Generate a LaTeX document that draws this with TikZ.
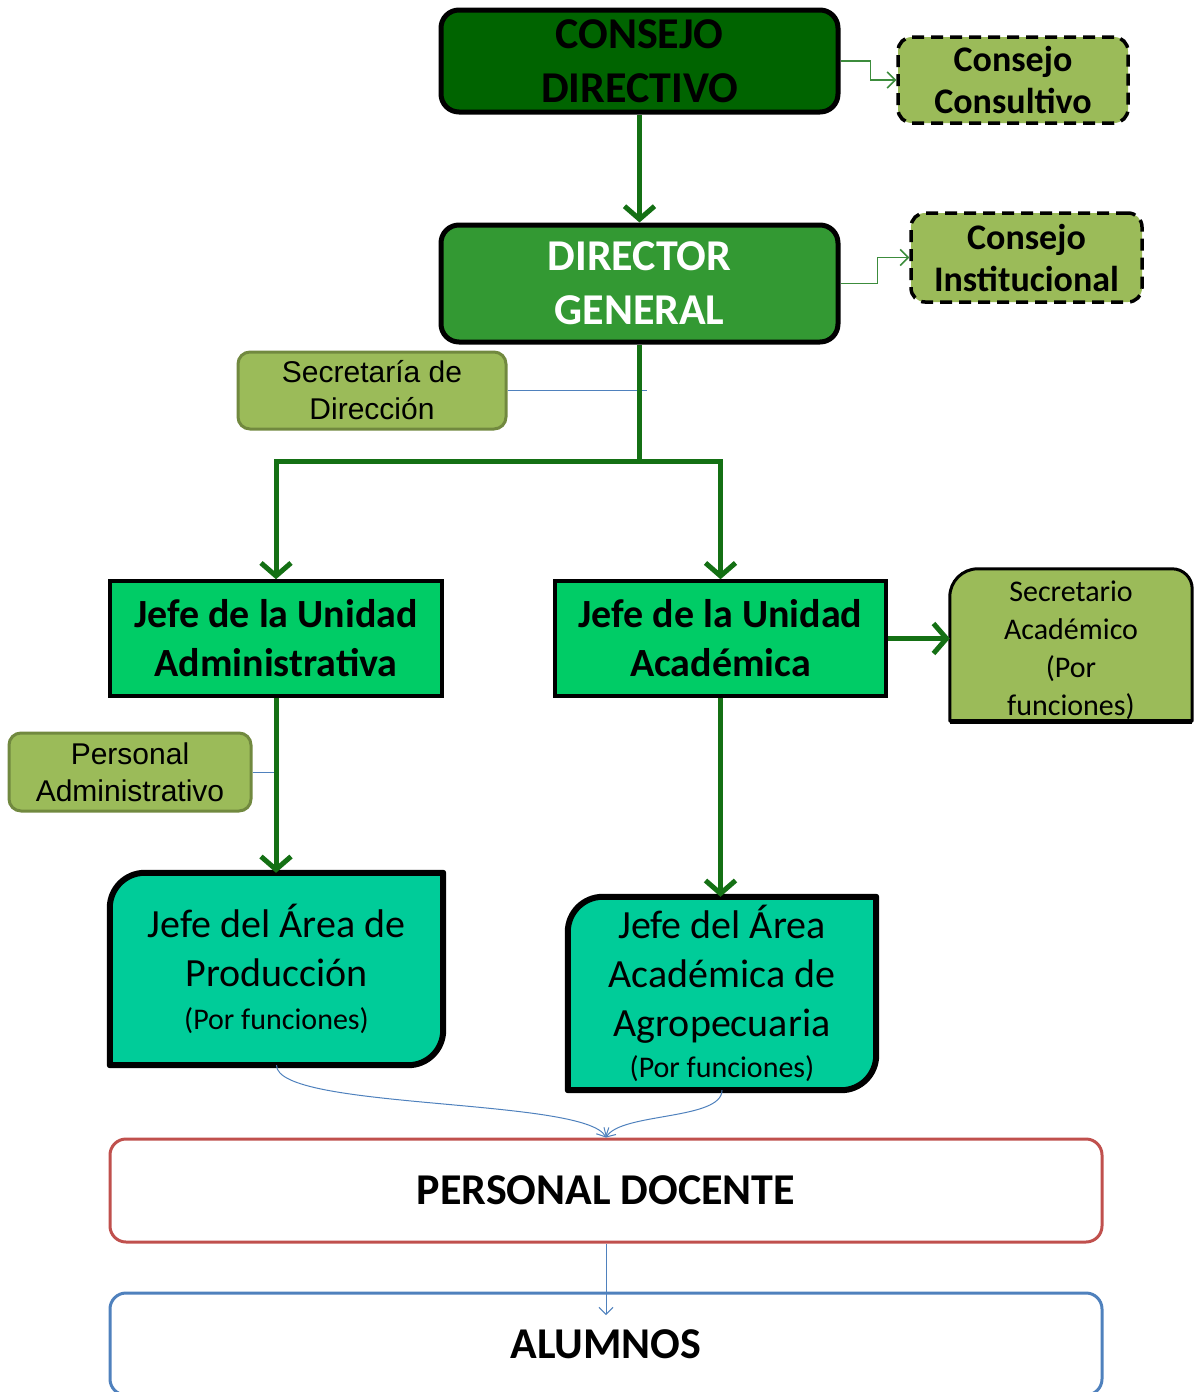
\documentclass[tikz,border=0pt]{standalone}
\usepackage{fontspec}
\setmainfont{Carlito}
\newfontfamily\arialf{Liberation Sans}
\usetikzlibrary{arrows.meta,backgrounds,calc}
\definecolor{dkgreen}{RGB}{0,100,0}
\definecolor{mdgreen}{RGB}{51,153,51}
\definecolor{jgreen}{RGB}{0,204,102}
\definecolor{agreen}{RGB}{0,204,153}
\definecolor{olive}{RGB}{155,187,89}
\definecolor{olivedk}{RGB}{113,137,63}
\definecolor{arrgreen}{RGB}{20,112,20}
\definecolor{thgreen}{RGB}{60,140,60}
\definecolor{bluegray}{RGB}{79,129,189}
\definecolor{redb}{RGB}{192,80,77}
\begin{document}
\begin{tikzpicture}[x=1pt,y=1pt,
  box/.style={inner sep=0pt, align=center, text=black},
  topbox/.style={box, draw=black, line width=5pt, rounded corners=18pt},
  consbox/.style={box, draw=black, fill=olive, line width=3.5pt, dashed, dash pattern=on 12pt off 7pt, rounded corners=14pt,
     font=\fontsize{36}{42}\selectfont\bfseries},
  olbox/.style={box, draw=olivedk, fill=olive, line width=3pt, rounded corners=12pt, font=\arialf\fontsize{30}{37}\selectfont},
  unbox/.style={box, draw=black, fill=jgreen, line width=3.5pt, minimum width=332pt, minimum height=115pt,
     font=\fontsize{40}{49}\selectfont\bfseries},
  arbox/.style={box, font=\fontsize{40}{49}\selectfont},
  arshape/.style={draw=black, fill=agreen, line width=6pt, line join=round},
  lowbox/.style={box, fill=white, line width=3pt, rounded corners=16pt, minimum width=992pt,
     font=\fontsize{44}{52}\selectfont\bfseries},
  tharrow/.style={draw=arrgreen, line width=5pt, -{Straight Barb[length=13pt,width=30pt]}},
  thline/.style={draw=arrgreen, line width=5pt},
  thinarrow/.style={draw=thgreen, line width=1.5pt, -{Straight Barb[length=8pt,width=16pt]}},
  bline/.style={draw=bluegray, line width=1pt},
  barrow/.style={draw=bluegray, line width=1pt, -{Straight Barb[length=7pt,width=14pt]}}
]
\useasboundingbox (0,0) rectangle (1197,-1392);

% top boxes
\node[topbox, fill=dkgreen, minimum width=397pt, minimum height=102pt,
  font=\fontsize{44}{54}\selectfont\bfseries] (cd) at (639.5,-61) {CONSEJO\\DIRECTIVO};
\node[consbox, minimum width=230pt, minimum height=86pt] (cc) at (1013,-80) {Consejo\\Consultivo};
\node[topbox, fill=mdgreen, minimum width=397pt, minimum height=117pt, text=white,
  font=\fontsize{44}{54}\selectfont\bfseries] (dg) at (639.5,-283.5) {DIRECTOR\\GENERAL};
\node[consbox, minimum width=231pt, minimum height=89pt] (ci) at (1026.5,-257.5) {Consejo\\Institucional};

\node[olbox, minimum width=268pt, minimum height=77pt] (sd) at (372,-390.5) {Secretaría de\\Dirección};

% units
\node[unbox] (ua) at (276,-638.5) {Jefe de la Unidad\\Administrativa};
\node[unbox, minimum width=331pt] (uc) at (720.5,-638.5) {Jefe de la Unidad\\Académica};

\node[box, minimum width=242pt, minimum height=142pt, font=\fontsize{30}{38}\selectfont] (sa) at (1071,-650)
  {Secretario\\Académico\\(Por\\funciones)};
\node[olbox, minimum width=242pt, minimum height=78pt] (pa) at (130,-772) {Personal\\Administrativo};

% area boxes
\node[arbox, minimum width=333pt, minimum height=192pt] (ap) at (276.5,-969)
  {Jefe del Área de\\Producción\\[-6pt]\fontsize{30}{36}\selectfont (Por funciones)};
\node[arbox, minimum width=308pt, minimum height=193pt] (aa) at (722,-993.5)
  {Jefe del Área\\Académica de\\Agropecuaria\\[-8pt]\fontsize{30}{36}\selectfont (Por funciones)};

\node[lowbox, draw=redb, minimum height=103pt] (pd) at (606,-1190.5) {PERSONAL DOCENTE};
\node[lowbox, draw=bluegray, minimum height=102pt] (al) at (606,-1344) {ALUMNOS};

\begin{scope}[on background layer]
  \draw[draw=black, fill=olive, line width=3pt, line join=round]
    (sa.south west) -- ($(sa.north west)+(0,-18)$) arc[start angle=180,end angle=90,radius=28pt]
    -- ($(sa.north east)+(-20,10)$) arc[start angle=90,end angle=0,radius=20pt] -- (sa.south east) -- cycle;
  \draw[arshape] (ap.south west) -- ($(ap.north west)+(0,-35)$) arc[start angle=180,end angle=90,radius=35pt]
    -- (ap.north east) -- ($(ap.south east)+(0,35)$) arc[start angle=0,end angle=-90,radius=35pt] -- cycle;
  \draw[arshape] (aa.south west) -- ($(aa.north west)+(0,-35)$) arc[start angle=180,end angle=90,radius=35pt]
    -- (aa.north east) -- ($(aa.south east)+(0,35)$) arc[start angle=0,end angle=-90,radius=35pt] -- cycle;
\end{scope}
\draw[black, line width=5pt] (sa.south west) -- (sa.south east);

% connectors
\draw[thinarrow] (cd.east) -- ++(30,0) |- (cc.west);
\draw[thinarrow] (dg.east) -- ++(37,0) |- (ci.west);
\draw[tharrow] (cd.south) -- (dg.north);
\coordinate (jn) at (639.5,-461);
\draw[bline] (sd.east) -- ++(139,0);
\draw[thline] (dg.south) -- (jn);
\draw[tharrow] (jn) -| (ua.north);
\draw[tharrow] (jn) -| (uc.north);
\draw[tharrow] (uc.east) -- (uc.east -| sa.west);
\draw[bline] (pa.east) -- ++(25,0);
\draw[tharrow] (ua.south) -- (ua.south |- ap.north);
\draw[tharrow] (uc.south) -- (uc.south |- aa.north);
\draw[barrow] (ap.south) .. controls +(0,-45) and +(-20,40) .. (pd.north);
\draw[barrow] (aa.south) .. controls +(0,-30) and +(15,25) .. (pd.north);
\coordinate (alin) at (606,-1315);
\draw[barrow] (pd.south) -- (alin);
\end{tikzpicture}
\end{document}
